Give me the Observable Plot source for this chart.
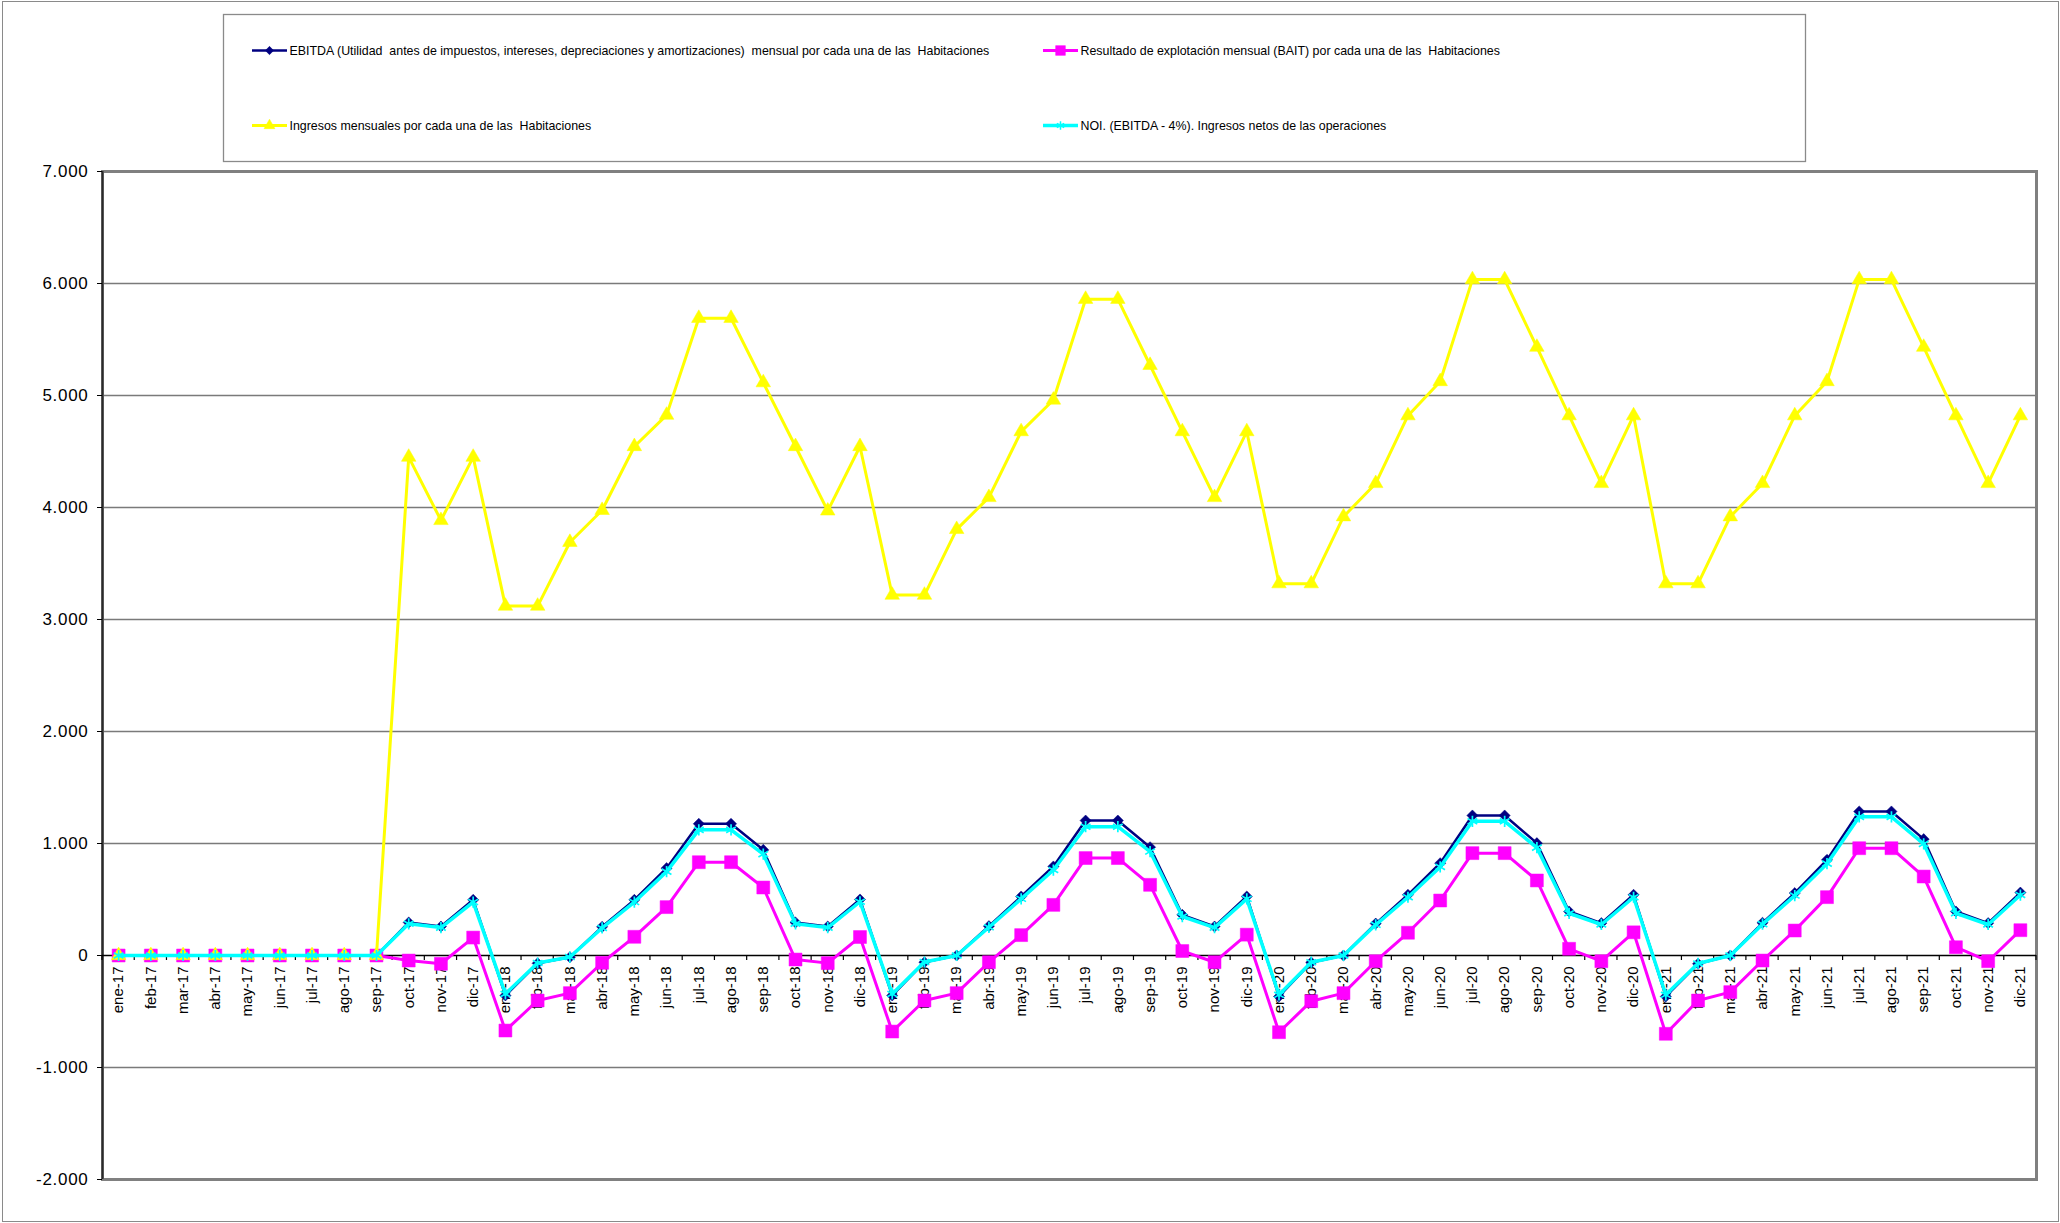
<!DOCTYPE html>
<html><head><meta charset="utf-8">
<script src="https://cdn.jsdelivr.net/npm/d3@7"></script>
<script src="https://cdn.jsdelivr.net/npm/@observablehq/plot@0.6"></script>
<style>
html,body{margin:0;padding:0;background:#fff;}
#wrap{position:relative;width:2060px;height:1223px;overflow:hidden;font-family:"Liberation Sans",Arial,sans-serif;}
#border{position:absolute;left:2px;top:1px;width:2057px;height:1221px;border:1.5px solid #8a8a8a;box-sizing:border-box;pointer-events:none;}
#legend{position:absolute;left:0;top:0;z-index:2;}
#chart{position:absolute;left:0;top:145px;z-index:1;}
</style></head><body>
<div id="wrap"><div id="chart"></div><div id="legend"></div><div id="border"></div></div>
<script>
// ---- data ----
const monthNames = ["ene","feb","mar","abr","may","jun","jul","ago","sep","oct","nov","dic"];
const years = ["17","18","19","20","21"];
const categories = years.flatMap(y => monthNames.map(m => `${m}-${y}`));

const seriesNames = [
  "EBITDA (Utilidad  antes de impuestos, intereses, depreciaciones y amortizaciones)  mensual por cada una de las  Habitaciones",
  "Resultado de explotación mensual (BAIT) por cada una de las  Habitaciones",
  "Ingresos mensuales por cada una de las  Habitaciones",
  "NOI. (EBITDA - 4%). Ingresos netos de las operaciones"
];

const ebitda = [
  0,0,0,0,0,0,0,0,0, 295, 259, 497,
  -357, -70, -15, 256, 497, 780, 1176, 1176, 943, 295, 259, 500,
  -357, -60, 0, 262, 527, 795, 1205, 1205, 967, 363, 259, 527,
  -366, -62, 0, 285, 542, 824, 1250, 1250, 1003, 393, 289, 542,
  -366, -74, 0, 292, 557, 854, 1286, 1286, 1039, 393, 289, 562
];
const bait = [
  0,0,0,0,0,0,0,0,0, -45, -74, 160,
  -670, -402, -336, -65, 167, 432, 833, 833, 607, -36, -68, 165,
  -679, -402, -336, -60, 182, 452, 870, 870, 631, 40, -60, 186,
  -685, -408, -336, -51, 203, 491, 914, 914, 670, 60, -51, 207,
  -699, -402, -327, -45, 223, 521, 958, 958, 705, 74, -51, 226
];
const ingresos = [
  0,0,0,0,0,0,0,0,0, 4450, 3885, 4450,
  3120, 3120, 3690, 3975, 4545, 4825, 5690, 5690, 5115, 4545, 3970, 4545,
  3218, 3218, 3805, 4090, 4678, 4960, 5860, 5860, 5270, 4678, 4090, 4678,
  3320, 3320, 3918, 4215, 4820, 5125, 6035, 6035, 5432, 4820, 4215, 4820,
  3320, 3320, 3918, 4215, 4820, 5125, 6035, 6035, 5432, 4820, 4215, 4820
];
const noi = [
  0,0,0,0,0,0,0,0,0, 283, 249, 477,
  -343, -67, -14, 246, 477, 749, 1122, 1122, 905, 283, 249, 480,
  -343, -58, 0, 252, 506, 763, 1150, 1150, 928, 348, 249, 506,
  -351, -60, 0, 274, 520, 791, 1198, 1198, 963, 377, 277, 520,
  -351, -71, 0, 280, 535, 820, 1238, 1238, 997, 377, 277, 540
];
const yTicks = [-2000,-1000,0,1000,2000,3000,4000,5000,6000,7000];
const yDomain = [-2000, 7000];

// ---- styling of series ----
const series = [
  {name: seriesNames[0], values: ebitda,   color: "#000080", symbol: "diamond2", r: 5,   lw: 2.5, filled: true},
  {name: seriesNames[1], values: bait,     color: "#FF00FF", symbol: "square",   r: 7.3, lw: 3,   filled: true},
  {name: seriesNames[2], values: ingresos, color: "#FFFF00", symbol: "triangle", r: 5.4, lw: 3,   filled: true},
  {name: seriesNames[3], values: noi,      color: "#00FFFF", symbol: "asterisk", r: 5.3, lw: 3.5, filled: false}
];

const fmt = n => n === 0 ? "0" : (n < 0 ? "-" : "") + d3.format(",")(Math.abs(n)).replace(/,/g, ".");

const idx = categories.map((c, i) => i);
const xDomain = [-0.5, categories.length - 0.5];

// boundary ticks at the band edges below the zero line
const boundaryTicks = (index, scales) => {
  const g = d3.create("svg:g").attr("stroke", "#000").attr("stroke-width", 1.2);
  const y0 = scales.y(0);
  for (let i = 0; i <= categories.length; i++) {
    const x = scales.x(i - 0.5);
    g.append("line").attr("x1", x).attr("x2", x).attr("y1", y0).attr("y2", y0 + 5);
  }
  return g.node();
};

const marks = [
  Plot.ruleY(yTicks.filter(v => v !== 0 && v !== yDomain[0] && v !== yDomain[1]), {stroke: "#7a7a7a", strokeWidth: 1.3}),
  Plot.frame({stroke: "#808080", strokeWidth: 3}),
  Plot.ruleX([xDomain[0]], {stroke: "#2a2a2a", strokeWidth: 2}),
  Plot.axisY({ticks: yTicks, tickFormat: fmt, tickSize: 5, tickPadding: 9, fontSize: 17, label: null, stroke: "#000"}),
  Plot.ruleY([0], {stroke: "#000", strokeWidth: 1.5}),
  boundaryTicks,
  Plot.text(idx, {x: d => d, y: () => 0, text: d => categories[d], rotate: -90, textAnchor: "end", lineAnchor: "middle", dy: 11, fontSize: 15, fill: "#000"})
];
for (const s of series) {
  marks.push(Plot.line(idx, {x: d => d, y: d => s.values[d], stroke: s.color, strokeWidth: s.lw, strokeLinejoin: "round"}));
  marks.push(Plot.dot(idx, {x: d => d, y: d => s.values[d], symbol: s.symbol, r: s.r,
    fill: s.filled ? s.color : "none", stroke: s.color, strokeWidth: s.filled ? 0.5 : 1.7}));
}

const chart = Plot.plot({
  width: 2060,
  height: 1078,
  marginLeft: 102,
  marginRight: 24,
  marginTop: 26,
  marginBottom: 44,
  x: {type: "linear", domain: xDomain, axis: null},
  y: {domain: yDomain, axis: null},
  style: {fontFamily: "'Liberation Sans', Arial, sans-serif", background: "transparent", color: "#000"},
  marks
});
document.getElementById("chart").append(chart);
d3.select(chart).selectAll('[aria-label="y-axis tick label"] text').style("letter-spacing", "0.7px");

// ---- legend ----
const lg = d3.select("#legend").append("svg").attr("width", 2060).attr("height", 163)
  .style("font-family", "'Liberation Sans', Arial, sans-serif");
lg.append("rect").attr("x", 223.5).attr("y", 14.5).attr("width", 1582).attr("height", 147)
  .attr("fill", "#fff").attr("stroke", "#8a8a8a").attr("stroke-width", 1.3);
const legendPos = [[252, 50.5], [1043, 50.5], [252, 125.5], [1043, 125.5]];
const symMap = {diamond2: d3.symbolDiamond2, square: d3.symbolSquare, triangle: d3.symbolTriangle, asterisk: d3.symbolAsterisk};
series.forEach((s, k) => {
  const [x, y] = legendPos[k];
  const g = lg.append("g");
  g.append("line").attr("x1", x).attr("x2", x + 35).attr("y1", y).attr("y2", y)
    .attr("stroke", s.color).attr("stroke-width", s.lw);
  g.append("path").attr("transform", `translate(${x + 17.5},${y})`)
    .attr("d", d3.symbol(symMap[s.symbol], Math.PI * (s.r * 0.75) ** 2)())
    .attr("fill", s.filled ? s.color : "none").attr("stroke", s.color).attr("stroke-width", s.filled ? 0.5 : 1.5);
  g.append("text").attr("x", x + 37.5).attr("y", y).attr("dy", "0.35em")
    .attr("font-size", 12.4).style("white-space", "pre").attr("fill", "#000").text(s.name);
});
</script>
</body></html>
